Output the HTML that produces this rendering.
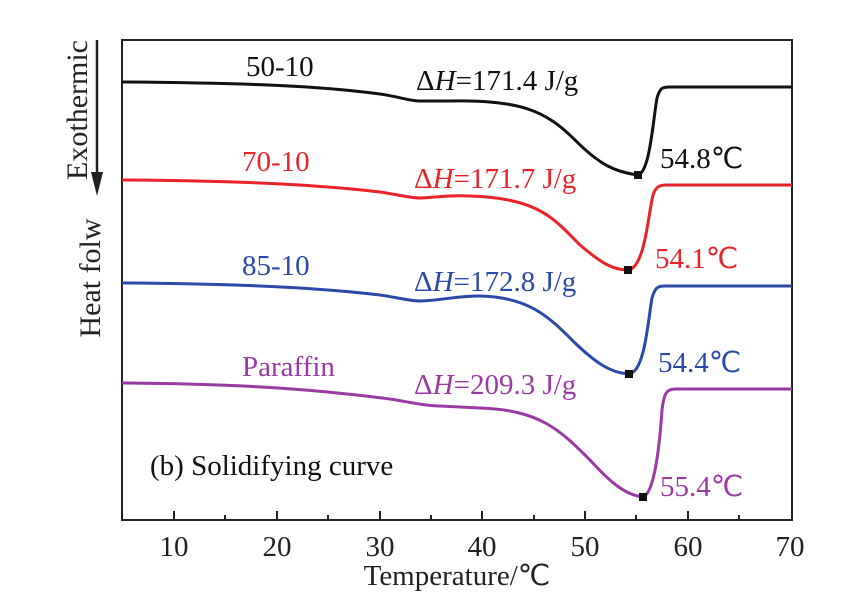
<!DOCTYPE html>
<html><head><meta charset="utf-8"><style>
body{margin:0;background:#fff}
text{font-family:"Liberation Serif",serif;}
</style></head><body>
<svg width="865" height="596" viewBox="0 0 865 596" xmlns="http://www.w3.org/2000/svg">
<rect x="122" y="40" width="670" height="480" fill="none" stroke="#222" stroke-width="2"/>
<g stroke="#222" stroke-width="2">
<line x1="174" y1="520" x2="174" y2="511"/><line x1="277" y1="520" x2="277" y2="511"/>
<line x1="380" y1="520" x2="380" y2="511"/><line x1="482" y1="520" x2="482" y2="511"/>
<line x1="585" y1="520" x2="585" y2="511"/><line x1="688" y1="520" x2="688" y2="511"/>
<line x1="225" y1="520" x2="225" y2="515"/><line x1="328" y1="520" x2="328" y2="515"/>
<line x1="431" y1="520" x2="431" y2="515"/><line x1="534" y1="520" x2="534" y2="515"/>
<line x1="636" y1="520" x2="636" y2="515"/><line x1="739" y1="520" x2="739" y2="515"/>
</g>
<g font-size="29" fill="#222" text-anchor="middle">
<text x="174" y="556">10</text><text x="277" y="556">20</text><text x="380" y="556">30</text>
<text x="482" y="556">40</text><text x="585" y="556">50</text><text x="688" y="556">60</text><text x="790" y="556">70</text>
<text x="457" y="585">Temperature/℃</text>
</g>
<text transform="translate(87,110) rotate(-90)" font-size="30" text-anchor="middle" fill="#222">Exothermic</text>
<text transform="translate(100,278) rotate(-90)" font-size="30" text-anchor="middle" fill="#222">Heat folw</text>
<line x1="97" y1="40" x2="97" y2="180" stroke="#222" stroke-width="2.5"/>
<polygon points="91,172 103,172 97,196" fill="#222"/>
<g fill="none" stroke-width="3">
<path stroke="#111" d="M122,82 C250,83 320,86 380,94 C400,97 410,101 420,101 L450,101 C520,100 545,110 575,140 C600,165 615,172 638,175 C650,172 653,120 657,98 C660,88 662,87 670,87 L792,87"/>
<path stroke="#e8232a" d="M122,180 C250,181 320,185 380,192 C400,195 410,198 420,198 C440,197 450,195 470,196 C540,198 555,220 580,245 C600,262 612,270 628,270 C645,268 648,215 653,195 C656,186 660,185 667,185 L792,185"/>
<path stroke="#2a49a8" d="M122,283 C250,284 320,288 380,295 C400,298 410,301 420,301 C445,300 455,296 480,296 C530,297 550,318 575,343 C595,362 610,373 629,374 C645,372 648,320 652,298 C655,288 657,286 665,286 L792,286"/>
<path stroke="#9a3aa4" d="M122,383 C250,384 320,390 390,399 C410,402 425,406 440,406 L480,408 C540,410 560,430 590,460 C610,482 625,495 643,497 C655,493 660,440 662,410 C664,394 666,389 675,389 L792,389"/>
</g>
<g fill="#111">
<rect x="634" y="171" width="8" height="8"/><rect x="624" y="266" width="8" height="8"/>
<rect x="625" y="370" width="8" height="8"/><rect x="639" y="493" width="8" height="8"/>
</g>
<g font-size="29">
<text x="246" y="76" fill="#111">50-10</text>
<text x="416" y="90" fill="#111">Δ<tspan font-style="italic">H</tspan>=171.4 J/g</text>
<text x="660" y="168" fill="#111">54.8℃</text>
<text x="242" y="171" fill="#e8232a">70-10</text>
<text x="414" y="188" fill="#e8232a">Δ<tspan font-style="italic">H</tspan>=171.7 J/g</text>
<text x="655" y="268" fill="#e8232a">54.1℃</text>
<text x="242" y="275" fill="#2a49a8">85-10</text>
<text x="414" y="291" fill="#2a49a8">Δ<tspan font-style="italic">H</tspan>=172.8 J/g</text>
<text x="658" y="372" fill="#2a49a8">54.4℃</text>
<text x="242" y="376" fill="#9a3aa4">Paraffin</text>
<text x="414" y="394" fill="#9a3aa4">Δ<tspan font-style="italic">H</tspan>=209.3 J/g</text>
<text x="660" y="496" fill="#9a3aa4">55.4℃</text>
<text x="150" y="475" fill="#111">(b) Solidifying curve</text>
</g>
</svg>
</body></html>
